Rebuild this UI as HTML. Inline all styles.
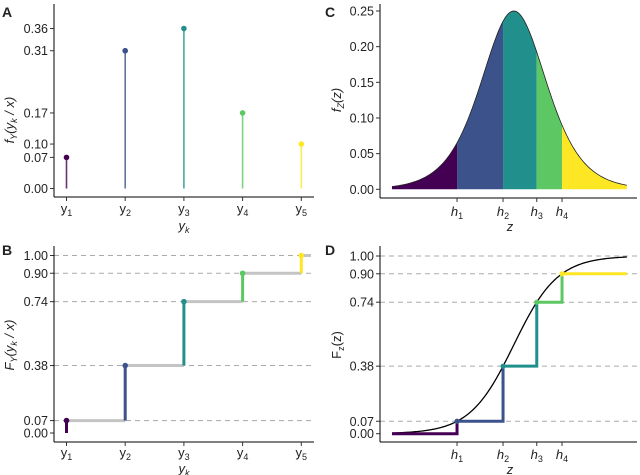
<!DOCTYPE html>
<html><head><meta charset="utf-8"><style>
html,body{margin:0;padding:0;background:#fff;}
svg{display:block;font-family:"Liberation Sans",sans-serif;}
text{fill:#222;}
</style></head><body>
<svg id="chart" width="640" height="475" viewBox="0 0 640 475"></svg>
<script>
// Data
const categories = ["y1","y2","y3","y4","y5"];
const pmfValues = [0.07, 0.31, 0.36, 0.17, 0.10];
const pmfTicks = [0.00, 0.07, 0.10, 0.17, 0.31, 0.36];
const cdfValues = [0.07, 0.38, 0.74, 0.90, 1.00];
const cdfTicks = [0.00, 0.07, 0.38, 0.74, 0.90, 1.00];
const densityTicks = [0.00, 0.05, 0.10, 0.15, 0.20, 0.25];
const thresholds = [-2.586, -0.49, 1.046, 2.197];
const thresholdLabels = ["1","2","3","4"];
const colors = ["#440154","#3B528B","#21908C","#5DC863","#FDE725"];
const zRange = [-5.55, 5.15];

const NS="http://www.w3.org/2000/svg";
const svg=document.getElementById('chart');
function mk(tag,attrs,parent){const e=document.createElementNS(NS,tag);for(const k in attrs)e.setAttribute(k,attrs[k]);(parent||svg).appendChild(e);return e;}
function txt(x,y,s,anchor,size,parent){const t=mk('text',{x:x,y:y,'text-anchor':anchor||'middle','font-size':size||12},parent);t.textContent=s;return t;}

// scales
const xCat=i=>66.5+i*58.7;
const yA=v=>188.5-v*444.4;
const yB=v=>433-v*177.5;
const xZ=z=>513.8+z*21.95;
const yC=v=>189.3-v*713.2;
const yD=v=>433.7-v*177.7;
const logis=z=>1/(1+Math.exp(-z));
const dens=z=>{const e=Math.exp(-z);return e/((1+e)*(1+e));};

// ---------- Panel A ----------
const gA=mk('g',{});


const lA=txt(2,17,'A','start',14,gA);lA.setAttribute('font-weight','bold');
mk('line',{x1:54,y1:4,x2:54,y2:197,stroke:'#000','stroke-width':1},gA);
mk('line',{x1:54,y1:197,x2:314,y2:197,stroke:'#000','stroke-width':1},gA);
pmfTicks.forEach(v=>{
  mk('line',{x1:50,x2:54,y1:yA(v),y2:yA(v),stroke:'#333'},gA);
  txt(48,yA(v)+4.5,v.toFixed(2),'end',12.5,gA);
});
categories.forEach((c,i)=>{
  mk('line',{x1:xCat(i),x2:xCat(i),y1:197,y2:201,stroke:'#333'},gA);
  const t=txt(xCat(i),213,'y','middle',13,gA);
  const s=mk('tspan',{'font-size':9,dy:3},t);s.textContent=c.slice(1);
  const stem=mk('line',{x1:xCat(i),x2:xCat(i),y1:yA(0),y2:yA(pmfValues[i]),stroke:colors[i],'stroke-width':1.6,'stroke-opacity':0.8},gA);
  
  
  const d=mk('circle',{cx:xCat(i),cy:yA(pmfValues[i]),r:2.8,fill:colors[i]},gA);
  
  
});
(function(){const t=txt(184,230,'','middle',13,gA);t.setAttribute('font-style','italic');t.innerHTML='y<tspan font-size="9" dy="3">k</tspan>';})();
(function(){const t=mk('text',{transform:'translate(14,120) rotate(-90)','text-anchor':'middle','font-size':13,'font-style':'italic'},gA);t.innerHTML='f<tspan font-size="9" dy="3">Y</tspan><tspan dy="-3">(y</tspan><tspan font-size="9" dy="3">k</tspan><tspan dy="-3"> / x)</tspan>';})();

// ---------- Panel B ----------
const gB=mk('g',{});


const lB=txt(2,255,'B','start',14,gB);lB.setAttribute('font-weight','bold');
cdfTicks.forEach(v=>{
  if(v>0){const g=mk('line',{x1:54,x2:314,y1:yB(v),y2:yB(v),stroke:'#aaa','stroke-dasharray':'5,4','stroke-width':1},gB);
  }
  mk('line',{x1:50,x2:54,y1:yB(v),y2:yB(v),stroke:'#333'},gB);
  txt(48,yB(v)+4.5,v.toFixed(2),'end',12.5,gB);
});
mk('line',{x1:54,y1:246,x2:54,y2:442,stroke:'#000'},gB);
mk('line',{x1:54,y1:442,x2:314,y2:442,stroke:'#000'},gB);
categories.forEach((c,i)=>{
  const x2=i<categories.length-1?xCat(i+1):311;
  const h=mk('line',{x1:xCat(i),x2:x2,y1:yB(cdfValues[i]),y2:yB(cdfValues[i]),stroke:'#c4c4c4','stroke-width':3},gB);
  
  
});
categories.forEach((c,i)=>{
  const prev=i>0?cdfValues[i-1]:0;
  const v=mk('line',{x1:xCat(i),x2:xCat(i),y1:yB(prev),y2:yB(cdfValues[i]),stroke:colors[i],'stroke-width':3},gB);
  
  
  mk('circle',{cx:xCat(i),cy:yB(cdfValues[i]),r:2.8,fill:colors[i]},gB);
  mk('line',{x1:xCat(i),x2:xCat(i),y1:442,y2:446,stroke:'#333'},gB);
  const t=txt(xCat(i),457,'y','middle',13,gB);
  const s=mk('tspan',{'font-size':9,dy:3},t);s.textContent=c.slice(1);
});
(function(){const t=txt(184,473,'','middle',13,gB);t.setAttribute('font-style','italic');t.innerHTML='y<tspan font-size="9" dy="3">k</tspan>';})();
(function(){const t=mk('text',{transform:'translate(14,345) rotate(-90)','text-anchor':'middle','font-size':13,'font-style':'italic'},gB);t.innerHTML='F<tspan font-size="9" dy="3">Y</tspan><tspan dy="-3">(y</tspan><tspan font-size="9" dy="3">k</tspan><tspan dy="-3"> / x)</tspan>';})();

// ---------- Panel C ----------
const gC=mk('g',{});


const lC=txt(325,17,'C','start',14,gC);lC.setAttribute('font-weight','bold');
const bounds=[zRange[0]].concat(thresholds,[zRange[1]]);
for(let k=0;k<5;k++){
  const a=bounds[k],b=bounds[k+1];let d='M'+xZ(a)+','+yC(0);
  for(let j=0;j<=60;j++){const z=a+(b-a)*j/60;d+=' L'+xZ(z).toFixed(2)+','+yC(dens(z)).toFixed(2);}
  d+=' L'+xZ(b)+','+yC(0)+'Z';
  const p=mk('path',{d:d,fill:colors[k]},gC);
  
  
}
(function(){let d='';for(let j=0;j<=200;j++){const z=zRange[0]+(zRange[1]-zRange[0])*j/200;d+=(j?' L':'M')+xZ(z).toFixed(2)+','+yC(dens(z)).toFixed(2);}
const p=mk('path',{d:d,fill:'none',stroke:'#222','stroke-width':0.8},gC);})();
mk('line',{x1:380,y1:4,x2:380,y2:198,stroke:'#000'},gC);
mk('line',{x1:380,y1:198,x2:637,y2:198,stroke:'#000'},gC);
densityTicks.forEach(v=>{
  mk('line',{x1:376,x2:380,y1:yC(v),y2:yC(v),stroke:'#333'},gC);
  txt(374,yC(v)+4.5,v.toFixed(2),'end',12.5,gC);
});
thresholds.forEach((h,i)=>{
  mk('line',{x1:xZ(h),x2:xZ(h),y1:198,y2:202,stroke:'#333'},gC);
  const t=txt(xZ(h),216,'','middle',13,gC);t.innerHTML='<tspan font-style="italic">h</tspan><tspan font-size="9" dy="3">'+thresholdLabels[i]+'</tspan>';
});
(function(){const t=txt(510,231,'z','middle',13,gC);t.setAttribute('font-style','italic');})();
(function(){const t=mk('text',{transform:'translate(341,100) rotate(-90)','text-anchor':'middle','font-size':13,'font-style':'italic'},gC);t.innerHTML='f<tspan font-size="9" dy="3">Z</tspan><tspan dy="-3">(z)</tspan>';})();

// ---------- Panel D ----------
const gD=mk('g',{});


const lD=txt(325,255,'D','start',14,gD);lD.setAttribute('font-weight','bold');
cdfTicks.forEach(v=>{
  if(v>0){const g=mk('line',{x1:380,x2:637,y1:yD(v),y2:yD(v),stroke:'#aaa','stroke-dasharray':'5,4'},gD);
  }
  mk('line',{x1:376,x2:380,y1:yD(v),y2:yD(v),stroke:'#333'},gD);
  txt(374,yD(v)+4.5,v.toFixed(2),'end',12.5,gD);
});
mk('line',{x1:380,y1:246,x2:380,y2:442,stroke:'#000'},gD);
mk('line',{x1:380,y1:442,x2:637,y2:442,stroke:'#000'},gD);
(function(){let d='';for(let j=0;j<=200;j++){const z=zRange[0]+(zRange[1]-zRange[0])*j/200;d+=(j?' L':'M')+xZ(z).toFixed(2)+','+yD(logis(z)).toFixed(2);}
const p=mk('path',{d:d,fill:'none',stroke:'#000','stroke-width':1.3},gD);})();
for(let k=0;k<5;k++){
  const level=k>0?cdfValues[k-1]:0;
  const a=bounds[k],b=bounds[k+1];
  let d='M'+xZ(a)+','+yD(level)+' L'+xZ(b)+','+yD(level);
  if(k<4)d+=' L'+xZ(b)+','+yD(cdfValues[k]);
  const p=mk('path',{d:d,fill:'none',stroke:colors[k],'stroke-width':3},gD);
  
  
  if(k<4)mk('circle',{cx:xZ(b),cy:yD(cdfValues[k]),r:2.6,fill:colors[k+1]},gD);
}
thresholds.forEach((h,i)=>{
  mk('line',{x1:xZ(h),x2:xZ(h),y1:442,y2:446,stroke:'#333'},gD);
  const t=txt(xZ(h),459,'','middle',13,gD);t.innerHTML='<tspan font-style="italic">h</tspan><tspan font-size="9" dy="3">'+thresholdLabels[i]+'</tspan>';
});
(function(){const t=txt(510,474,'z','middle',13,gD);t.setAttribute('font-style','italic');})();
(function(){const t=mk('text',{transform:'translate(341,345) rotate(-90)','text-anchor':'middle','font-size':13},gD);t.innerHTML='F<tspan font-size="9" dy="3">z</tspan><tspan dy="-3">(z)</tspan>';})();
</script>
</body></html>
